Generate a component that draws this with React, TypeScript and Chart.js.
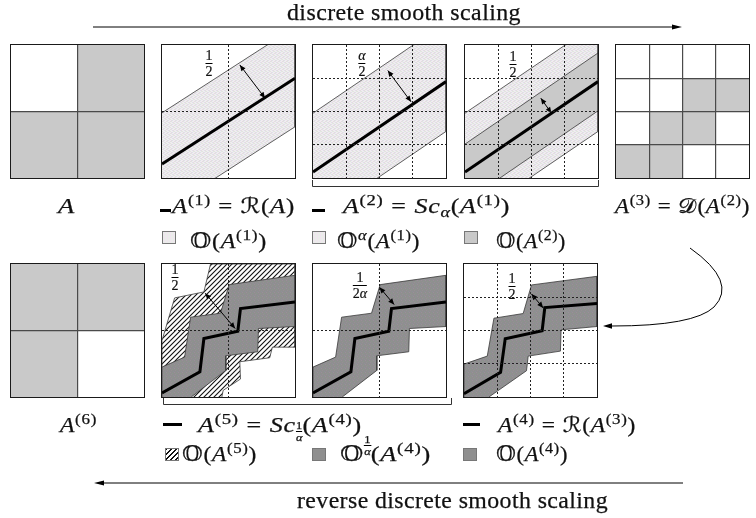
import React, { useEffect, useLayoutEffect, useRef } from "react";
import { Chart, registerables } from "chart.js";
Chart.register(...registerables);

// ================= DATA =================
// filled cells [col, row] (row counted from the bottom)
const cellsA = [[1, 1], [0, 0], [1, 0]];
const cellsA3 = [[2, 2], [3, 2], [1, 1], [2, 1], [0, 0], [1, 0]];
const cellsA6 = [[0, 1], [1, 1], [0, 0]];

// A(1) = R(A), panel domain 0..2
const a1LineX = [0, 2];
const a1LineY = [0.21, 1.5];
const a1BandX = [0, 2, 2, 0];
const a1BandY = [0.98, 2.27, 0.77, -0.52];
const a1ArrowX = [1.17, 1.55];
const a1ArrowY = [1.7, 1.2];

// A(2) = Sc_alpha(A(1)), panel domain 0..4
const a2LineX = [0, 4];
const a2LineY = [0.18, 2.9];
const a2AlphaBandX = [0, 4, 4, 0];
const a2AlphaBandY = [1.95, 4.67, 1.4, -1.32];
const a2AlphaArrowX = [2.25, 2.95];
const a2AlphaArrowY = [3.23, 2.29];
const a2BandX = [0, 4, 4, 0];
const a2BandY = [1.02, 3.76, 2.02, -0.72];
const a2ArrowX = [2.28, 2.6];
const a2ArrowY = [2.4, 1.95];

// A(4) = R(A(3)), panel domain 0..4
const a4LineX = [0, 1.1, 1.24, 2.35, 2.43, 4];
const a4LineY = [0.1, 0.74, 1.75, 1.99, 2.69, 2.81];
const a4BandX = [0, 0, 0.7, 0.9, 1.78, 2.03, 4, 4, 2.92, 2.9, 1.93, 1.88, 0.75];
const a4BandY = [0, 0.99, 1.23, 2.37, 2.51, 3.37, 3.63, 2.12, 2.02, 1.38, 1.23, 0.79, 0];
const a4ArrowX = [2.03, 2.38];
const a4ArrowY = [3.1, 2.68];

// A(5) = Sc_{1/alpha}(A(4)), panel domain 0..2
const a5LineX = [0, 0.57, 0.63, 1.14, 1.18, 2];
const a5LineY = [0.06, 0.38, 0.88, 0.99, 1.33, 1.43];
const a5BandX = [0, 0, 0.34, 0.43, 0.88, 1.01, 2, 2, 1.45, 1.44, 0.96, 0.96, 0.44];
const a5BandY = [0, 0.45, 0.6, 1.2, 1.26, 1.69, 1.83, 1.06, 1.03, 0.68, 0.62, 0.4, 0];
const a5HatchX = [0, 0, 0.19, 0.63, 0.73, 2, 2, 1.66, 1.62, 1.17, 1.18, 0.92, 0.9];
const a5HatchY = [0, 0.85, 1.49, 1.58, 2, 2, 0.75, 0.75, 0.59, 0.53, 0.27, 0.1, 0];
const a5HatchArrowX = [0.65, 1.1];
const a5HatchArrowY = [1.56, 1.03];
const a5ArrowX = [1.0, 1.22];
const a5ArrowY = [1.65, 1.39];

// ================= STYLE HELPERS =================
const FONT = "'Liberation Serif','DejaVu Serif',serif";
const SYM = "'DejaVu Serif','DejaVu Sans','Noto Sans',serif";
const CELL_GRAY = "#c9c9c9";

type Pats = { pastel: any; dark: any; hatch: any };
let PATS: Pats | null = null;
function getPats(): Pats {
  if (PATS) return PATS;
  const mk = (w: number, h: number, draw: (g: CanvasRenderingContext2D) => void) => {
    const c = document.createElement("canvas");
    c.width = w;
    c.height = h;
    const g = c.getContext("2d")!;
    draw(g);
    return g.createPattern(c, "repeat");
  };
  const pastel = mk(4, 4, (g) => {
    g.fillStyle = "#f0edf0";
    g.fillRect(0, 0, 4, 4);
    const px: [number, number, string][] = [
      [0, 0, "#e4dae3"], [1, 0, "#dfe6df"], [2, 1, "#dfe0e9"], [3, 1, "#e6dbe2"],
      [0, 2, "#dfe6df"], [1, 3, "#e4dae3"], [2, 3, "#dfe0e9"], [3, 2, "#e1e7e0"],
    ];
    px.forEach(([x, y, c]) => { g.fillStyle = c; g.fillRect(x, y, 1, 1); });
  });
  const dark = mk(4, 4, (g) => {
    g.fillStyle = "#8f8f8f";
    g.fillRect(0, 0, 4, 4);
    const px: [number, number, string][] = [
      [0, 0, "#9a8f9a"], [2, 1, "#8c968e"], [1, 2, "#978e97"], [3, 3, "#8e8f99"],
    ];
    px.forEach(([x, y, c]) => { g.fillStyle = c; g.fillRect(x, y, 1, 1); });
  });
  const hatch = mk(5, 5, (g) => {
    g.fillStyle = "#fff";
    g.fillRect(0, 0, 5, 5);
    g.strokeStyle = "#111";
    g.lineWidth = 1.1;
    g.beginPath();
    g.moveTo(-1, 6); g.lineTo(6, -1);
    g.moveTo(-1, 1); g.lineTo(1, -1);
    g.moveTo(4, 6); g.lineTo(6, 4);
    g.stroke();
  });
  PATS = { pastel, dark, hatch };
  return PATS;
}

const pts = (xs: number[], ys: number[]) => xs.map((x, i) => ({ x, y: ys[i] }));
const poly = (xs: number[], ys: number[], bg: any, edge: boolean, order: number) => ({
  data: pts(xs, ys), fill: "shape", backgroundColor: bg,
  borderColor: edge ? "#3a3a3a" : "rgba(0,0,0,0)", borderWidth: edge ? 0.8 : 0,
  pointRadius: 0, tension: 0, order,
});
const path = (xs: number[], ys: number[], w: number) => ({
  data: pts(xs, ys), fill: false, borderColor: "#000", borderWidth: w,
  pointRadius: 0, tension: 0, order: 1, borderJoinStyle: "miter",
});
const arrow = (xs: number[], ys: number[]) => ({
  data: pts(xs, ys), fill: false, borderColor: "#000", borderWidth: 1,
  pointRadius: 0, tension: 0, order: 0, arrow: true,
});
const cellSets = (cells: number[][]) =>
  cells.map(([c, r]) => poly([c, c + 1, c + 1, c], [r, r, r + 1, r + 1], CELL_GRAY, false, 6));

const arrowPlugin = {
  id: "arrowheads",
  afterDatasetsDraw(chart: any) {
    const ctx = chart.ctx;
    chart.data.datasets.forEach((ds: any, i: number) => {
      if (!ds.arrow) return;
      const p = chart.getDatasetMeta(i).data;
      const n = p.length;
      const head = (a: any, b: any) => {
        const ang = Math.atan2(a.y - b.y, a.x - b.x);
        const L = 6, W = 2.6;
        ctx.beginPath();
        ctx.moveTo(a.x, a.y);
        ctx.lineTo(a.x - L * Math.cos(ang) + W * Math.sin(ang), a.y - L * Math.sin(ang) - W * Math.cos(ang));
        ctx.lineTo(a.x - L * Math.cos(ang) - W * Math.sin(ang), a.y - L * Math.sin(ang) + W * Math.cos(ang));
        ctx.closePath();
        ctx.fill();
      };
      ctx.save();
      ctx.fillStyle = "#000";
      head(p[0], p[1]);
      head(p[n - 1], p[n - 2]);
      ctx.restore();
    });
  },
};

type PanelCfg = { max: number; dotted: boolean; build: (p: Pats) => any[] };

function axis(max: number, dotted: boolean) {
  return {
    type: "linear", min: 0, max,
    ticks: { display: false, stepSize: 1 },
    grid: {
      drawTicks: false, z: 1,
      lineWidth: dotted ? 1 : 1.2,
      color: (c: any) => (c.tick && (c.tick.value === 0 || c.tick.value === max) ? "rgba(0,0,0,0)" : dotted ? "#222" : "#4a4a4a"),
    },
    border: { display: false, dash: dotted ? [2, 2] : [] },
  };
}

const SZ = 133;
function Panel({ x, y, cfg }: { x: number; y: number; cfg: PanelCfg }) {
  const ref = useRef<HTMLCanvasElement>(null);
  useEffect(() => {
    const chart = new Chart(ref.current as HTMLCanvasElement, {
      type: "line",
      data: { datasets: cfg.build(getPats()) as any },
      options: {
        animation: false, responsive: false, maintainAspectRatio: false, events: [],
        layout: { padding: 0, autoPadding: false },
        plugins: { legend: { display: false }, tooltip: { enabled: false } },
        scales: { x: axis(cfg.max, cfg.dotted) as any, y: axis(cfg.max, cfg.dotted) as any },
      },
      plugins: [arrowPlugin],
    } as any);
    return () => chart.destroy();
  }, []);
  return (
    <div style={{ position: "absolute", left: x, top: y, width: SZ, height: SZ, border: "1px solid #1a1a1a" }}>
      <canvas ref={ref} width={SZ} height={SZ} style={{ display: "block" }} />
    </div>
  );
}

// ================= PANELS =================
const pA: PanelCfg = { max: 2, dotted: false, build: () => cellSets(cellsA) };
const pA1: PanelCfg = {
  max: 2, dotted: true,
  build: (p) => [path(a1LineX, a1LineY, 3), arrow(a1ArrowX, a1ArrowY), poly(a1BandX, a1BandY, p.pastel, true, 4)],
};
const pA2a: PanelCfg = {
  max: 4, dotted: true,
  build: (p) => [path(a2LineX, a2LineY, 3), arrow(a2AlphaArrowX, a2AlphaArrowY), poly(a2AlphaBandX, a2AlphaBandY, p.pastel, true, 4)],
};
const pA2: PanelCfg = {
  max: 4, dotted: true,
  build: (p) => [
    path(a2LineX, a2LineY, 3), arrow(a2ArrowX, a2ArrowY),
    poly(a2BandX, a2BandY, CELL_GRAY, true, 3), poly(a2AlphaBandX, a2AlphaBandY, p.pastel, true, 4),
  ],
};
const pA3: PanelCfg = { max: 4, dotted: false, build: () => cellSets(cellsA3) };
const pA6: PanelCfg = { max: 2, dotted: false, build: () => cellSets(cellsA6) };
const pA5h: PanelCfg = {
  max: 2, dotted: true,
  build: (p) => [
    path(a5LineX, a5LineY, 3), arrow(a5HatchArrowX, a5HatchArrowY),
    poly(a5BandX, a5BandY, p.dark, true, 3), poly(a5HatchX, a5HatchY, p.hatch, true, 4),
  ],
};
const pA5: PanelCfg = {
  max: 2, dotted: true,
  build: (p) => [path(a5LineX, a5LineY, 3), arrow(a5ArrowX, a5ArrowY), poly(a5BandX, a5BandY, p.dark, true, 3)],
};
const pA4: PanelCfg = {
  max: 4, dotted: true,
  build: (p) => [path(a4LineX, a4LineY, 3), arrow(a4ArrowX, a4ArrowY), poly(a4BandX, a4BandY, p.dark, true, 3)],
};

// ================= TEXT HELPERS =================
const Sup = ({ children }: any) => (
  <span style={{ fontSize: "0.72em", position: "relative", top: "-0.55em" }}>{children}</span>
);
const Sub = ({ children }: any) => (
  <span style={{ fontSize: "0.7em", position: "relative", top: "0.3em" }}>{children}</span>
);
const Eq = () => <span style={{ margin: "0 0.3em" }}>=</span>;
const Frac = ({ n, d, size }: any) => (
  <span style={{ display: "inline-flex", flexDirection: "column", alignItems: "center", fontSize: size, lineHeight: 1, verticalAlign: "middle", letterSpacing: 0 }}>
    <span>{n}</span>
    <span style={{ borderTop: "1px solid #000", alignSelf: "stretch", textAlign: "center", paddingTop: 1 }}>{d}</span>
  </span>
);
const Cal = ({ children }: any) => <span style={{ fontFamily: SYM }}>{children}</span>;
const BB = () => <span style={{ fontFamily: SYM, fontSize: "1.02em" }}>𝕆</span>;
const A = ({ k }: any) => (
  <>
    <i>A</i>
    {k !== undefined && <Sup>({k})</Sup>}
  </>
);
// text line stretched horizontally to span x..x2
function Fit({ x, x2, y, size = 21, ls = 0.6, children }: any) {
  const ref = useRef<HTMLDivElement>(null);
  useLayoutEffect(() => {
    const el = ref.current;
    if (!el) return;
    el.style.transform = "none";
    const w = el.getBoundingClientRect().width;
    if (w > 0) el.style.transform = `scaleX(${(x2 - x) / w})`;
  }, []);
  return (
    <div
      ref={ref}
      style={{
        position: "absolute", left: x, top: y, fontSize: size, lineHeight: 1, whiteSpace: "nowrap",
        letterSpacing: ls, transformOrigin: "0 0", WebkitTextStroke: "0.25px #111",
      }}
    >
      {children}
    </div>
  );
}
const DashMark = ({ x, x2, y }: any) => (
  <div style={{ position: "absolute", left: x, top: y, width: x2 - x, height: 3, background: "#000" }} />
);
const Sw = ({ x, y, kind }: any) => {
  const bg =
    kind === "pastel"
      ? { background: "repeating-conic-gradient(#efe6ee 0 25%, #e9efe9 0 50%) 0 0/3px 3px" }
      : kind === "gray"
      ? { background: CELL_GRAY }
      : kind === "dark"
      ? { background: "#8f8f8f" }
      : { background: "repeating-linear-gradient(135deg, #111 0 1px, #fff 1px 3.5px)" };
  return <div style={{ position: "absolute", left: x, top: y, width: 14, height: 13, border: "1px solid #777", boxSizing: "border-box", ...bg }} />;
};
const FracAt = ({ x, y, n, d }: any) => (
  <div style={{ position: "absolute", left: x, top: y, transform: "translate(-50%,-50%)", fontSize: 14, WebkitTextStroke: "0.2px #111" }}>
    <Frac n={n} d={d} size={14} />
  </div>
);

export default function App() {
  return (
    <div style={{ position: "fixed", left: 0, top: 0, width: 756, height: 518, background: "#fff", overflow: "hidden", fontFamily: FONT, color: "#111" }}>
      <Panel x={10} y={44} cfg={pA} />
      <Panel x={161} y={44} cfg={pA1} />
      <Panel x={312} y={44} cfg={pA2a} />
      <Panel x={464} y={44} cfg={pA2} />
      <Panel x={615} y={44} cfg={pA3} />
      <Panel x={10} y={263} cfg={pA6} />
      <Panel x={161} y={263} cfg={pA5h} />
      <Panel x={312} y={263} cfg={pA5} />
      <Panel x={463} y={263} cfg={pA4} />

      <FracAt x={209} y={64} n="1" d="2" />
      <FracAt x={362} y={64} n={<i>α</i>} d="2" />
      <FracAt x={513} y={65} n="1" d="2" />
      <FracAt x={175} y={278} n="1" d="2" />
      <FracAt x={360} y={286} n="1" d={<span>2<i>α</i></span>} />
      <FracAt x={512} y={287} n="1" d="2" />

      <svg width={756} height={518} style={{ position: "absolute", left: 0, top: 0, pointerEvents: "none" }}>
        <line x1={93} y1={27} x2={676} y2={27} stroke="#000" strokeWidth={1} />
        <polygon points="672,24.5 682,27 672,29.5" fill="#000" />
        <line x1={100} y1={483} x2={683} y2={483} stroke="#000" strokeWidth={1} />
        <polygon points="104,480.5 94,483 104,485.5" fill="#000" />
        <polyline points="312.5,180 312.5,186.5 598.5,186.5 598.5,180" fill="none" stroke="#333" strokeWidth={1} />
        <polyline points="163.5,398 163.5,404.5 451.5,404.5 451.5,398" fill="none" stroke="#333" strokeWidth={1} />
        <path d="M690,248 Q738,282 714,307 Q694,326 612,326" fill="none" stroke="#000" strokeWidth={1} />
        <polygon points="612,323.3 603,326 612,328.7" fill="#000" />
      </svg>

      <Fit x={287} x2={521} y={1} size={23} ls={0.4}>discrete smooth scaling</Fit>
      <Fit x={297} x2={608} y={489} size={23} ls={0.4}>reverse discrete smooth scaling</Fit>

      <Fit x={58} x2={75} y={196}><A /></Fit>
      <DashMark x={160} x2={171} y={208.5} />
      <Fit x={172} x2={295} y={196}><A k={1} /><Eq /><Cal>ℛ</Cal>(<A />)</Fit>
      <DashMark x={312} x2={325} y={208.5} />
      <Fit x={343} x2={510} y={196}><A k={2} /><Eq /><i>Sc</i><Sub><i>α</i></Sub>(<A k={1} />)</Fit>
      <Fit x={615} x2={750} y={196}><A k={3} /><Eq /><Cal>𝒟</Cal>(<A k={2} />)</Fit>

      <Sw x={162} y={231} kind="pastel" />
      <Fit x={190} x2={267} y={230}><BB />(<A k={1} />)</Fit>
      <Sw x={312} y={231} kind="pastel" />
      <Fit x={337} x2={420} y={230}><BB /><Sup><i>α</i></Sup>(<A k={1} />)</Fit>
      <Sw x={464} y={231} kind="gray" />
      <Fit x={496} x2={566} y={230}><BB />(<A k={2} />)</Fit>

      <Fit x={60} x2={97} y={415}><A k={6} /></Fit>
      <DashMark x={163} x2={182} y={423} />
      <Fit x={198} x2={362} y={415}><A k={5} /><Eq /><i>Sc</i><span style={{ position: "relative", top: "0.25em" }}><Frac n="1" d={<i>α</i>} size={10} /></span>(<A k={4} />)</Fit>
      <DashMark x={463} x2={480} y={423} />
      <Fit x={498} x2={636} y={415}><A k={4} /><Eq /><Cal>ℛ</Cal>(<A k={3} />)</Fit>

      <Sw x={165} y={448} kind="hatch" />
      <Fit x={182} x2={257} y={443}><BB />(<A k={5} />)</Fit>
      <Sw x={312} y={448} kind="dark" />
      <Fit x={340} x2={431} y={443}><BB /><span style={{ position: "relative", top: "-0.5em" }}><Frac n="1" d={<i>α</i>} size={10} /></span>(<A k={4} />)</Fit>
      <Sw x={463} y={448} kind="dark" />
      <Fit x={496} x2={568} y={443}><BB />(<A k={4} />)</Fit>
    </div>
  );
}
